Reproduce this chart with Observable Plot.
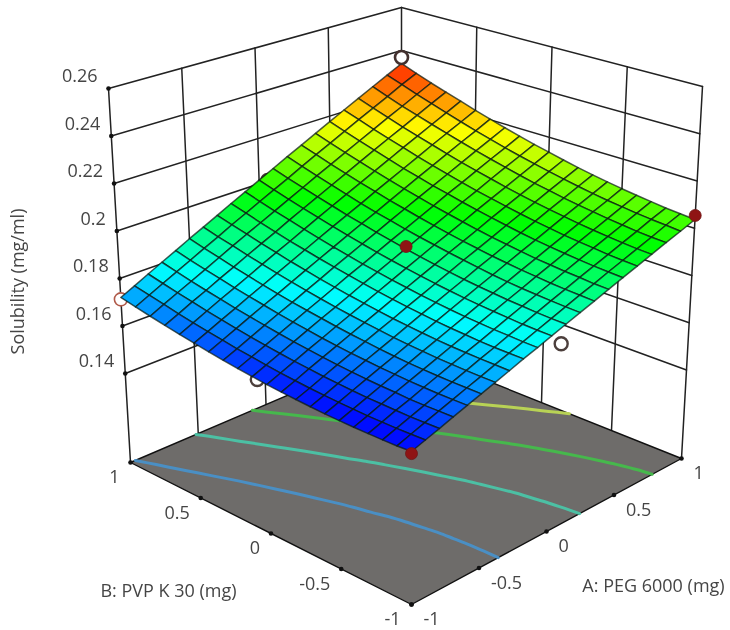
<!DOCTYPE html>
<html>
<head>
<meta charset="utf-8">
<script src="https://cdn.jsdelivr.net/npm/d3@7"></script>
<script src="https://cdn.jsdelivr.net/npm/@observablehq/plot@0.6"></script>
<style>
html,body{margin:0;padding:0;background:#fff}
svg{display:block;filter:blur(0.7px)}
</style>
</head>
<body>
<div id="chart"></div>
<script>
// ---- data ----
const zTicks = [0.14, 0.16, 0.18, 0.2, 0.22, 0.24, 0.26];
const abTicks = [-1, -0.5, 0, 0.5, 1];
const wallTicks = [-0.5, 0, 0.5];
const gridAxis = [-1,-0.9,-0.8,-0.7,-0.6,-0.5,-0.4,-0.3,-0.2,-0.1,0,0.1,0.2,0.3,0.4,0.5,0.6,0.7,0.8,0.9,1];
// Solubility surface; one row per B value (-1 .. 1), one column per A value (-1 .. 1)
const solubility = [
[.1603,.1622,.1641,.1661,.1681,.1701,.1721,.1742,.1764,.1784,.1806,.1828,.1850,.1872,.1895,.1918,.1941,.1965,.1989,.2012,.2037],
[.1600,.1620,.1640,.1660,.1680,.1701,.1721,.1743,.1764,.1785,.1807,.1829,.1852,.1875,.1897,.1921,.1944,.1968,.1992,.2018,.2042],
[.1599,.1619,.1639,.1659,.1680,.1701,.1722,.1744,.1765,.1788,.1809,.1832,.1855,.1878,.1902,.1925,.1948,.1973,.1997,.2023,.2047],
[.1599,.1619,.1640,.1659,.1681,.1702,.1724,.1746,.1767,.1790,.1813,.1836,.1859,.1882,.1906,.1930,.1955,.1979,.2004,.2029,.2055],
[.1599,.1619,.1641,.1662,.1683,.1704,.1726,.1748,.1771,.1794,.1817,.1840,.1863,.1888,.1912,.1936,.1961,.1986,.2011,.2037,.2063],
[.1600,.1621,.1642,.1664,.1686,.1707,.1730,.1752,.1775,.1798,.1822,.1846,.1869,.1894,.1918,.1943,.1968,.1994,.2020,.2045,.2072],
[.1602,.1623,.1645,.1667,.1689,.1711,.1734,.1757,.1780,.1804,.1828,.1852,.1876,.1901,.1926,.1951,.1977,.2003,.2029,.2055,.2082],
[.1605,.1626,.1649,.1671,.1694,.1716,.1739,.1763,.1787,.1811,.1835,.1859,.1885,.1909,.1935,.1960,.1986,.2013,.2039,.2066,.2093],
[.1609,.1630,.1653,.1676,.1699,.1723,.1746,.1769,.1794,.1818,.1843,.1868,.1894,.1919,.1944,.1971,.1997,.2024,.2051,.2078,.2105],
[.1613,.1635,.1659,.1682,.1705,.1729,.1753,.1777,.1802,.1827,.1852,.1877,.1904,.1929,.1955,.1983,.2009,.2036,.2063,.2091,.2119],
[.1618,.1641,.1665,.1689,.1712,.1737,.1761,.1786,.1811,.1836,.1862,.1888,.1915,.1940,.1967,.1995,.2022,.2049,.2077,.2105,.2134],
[.1625,.1648,.1672,.1696,.1721,.1746,.1770,.1795,.1822,.1847,.1873,.1899,.1926,.1953,.1980,.2008,.2035,.2064,.2092,.2120,.2149],
[.1632,.1656,.1680,.1705,.1730,.1755,.1780,.1806,.1833,.1858,.1885,.1912,.1939,.1966,.1994,.2023,.2050,.2079,.2108,.2136,.2166],
[.1640,.1664,.1689,.1715,.1740,.1765,.1791,.1817,.1845,.1871,.1898,.1925,.1953,.1981,.2009,.2037,.2066,.2095,.2125,.2154,.2184],
[.1649,.1674,.1699,.1725,.1751,.1776,.1803,.1830,.1857,.1884,.1912,.1940,.1967,.1996,.2025,.2054,.2083,.2113,.2143,.2172,.2203],
[.1659,.1684,.1710,.1736,.1763,.1789,.1816,.1843,.1871,.1899,.1927,.1955,.1983,.2013,.2042,.2071,.2101,.2132,.2162,.2192,.2223],
[.1669,.1695,.1722,.1749,.1775,.1802,.1830,.1858,.1885,.1914,.1943,.1972,.2001,.2030,.2060,.2090,.2121,.2151,.2182,.2213,.2245],
[.1681,.1707,.1735,.1761,.1789,.1816,.1845,.1873,.1901,.1931,.1960,.1989,.2019,.2049,.2079,.2110,.2141,.2171,.2203,.2235,.2267],
[.1693,.1721,.1748,.1775,.1803,.1832,.1861,.1890,.1918,.1947,.1977,.2007,.2038,.2068,.2099,.2130,.2161,.2193,.2224,.2257,.2289],
[.1706,.1734,.1762,.1790,.1818,.1848,.1876,.1907,.1936,.1966,.1996,.2026,.2058,.2089,.2120,.2152,.2184,.2216,.2248,.2282,.2314],
[.1720,.1748,.1777,.1806,.1835,.1865,.1894,.1924,.1955,.1985,.2016,.2047,.2079,.2110,.2142,.2175,.2207,.2240,.2273,.2306,.2340]
];
const contourLevels = [0.173, 0.186, 0.1985, 0.2105];
const contourColors = ["#4a8fc4", "#4cc0a4", "#46b84c", "#b8d255"];
const colorStops = [0.1599, 0.179, 0.198, 0.217, 0.234];
const colorRange = ["#0000ff", "#00ffff", "#00ff00", "#ffff00", "#ff1a00"];
// design points: A, B, solubility
const belowA = [0.06, -1, 0.07],    belowB = [1, 0.066, -1],   belowZ = [0.2002, 0.1622, 0.1757];
const aboveA = [1, 0, -1],          aboveB = [-1, 0, -1],      aboveZ = [0.2054, 0.1954, 0.1595];
const backA = [1],                  backB = [1],               backZ = [0.2368];
const cornerA = [-1],               cornerB = [1],             cornerZ = [0.1712];
const zLabel = "Solubility (mg/ml)", aLabel = "A: PEG 6000 (mg)", bLabel = "B: PVP K 30 (mg)";

// ---- view of the cube (box corners on screen: floor and ceiling) ----
const Z0 = 0.1025, Z1 = 0.26;
const floorBox = {F:[411,604], R:[681,458], B:[401,346], L:[130,462]};
const topBox   = {F:[411,187], R:[702,86],  B:[401,7],   L:[108,88]};
function project(a, b, z) {
  const s = (a + 1) / 2, t = (b + 1) / 2, c = (z - Z0) / (Z1 - Z0);
  const corner = (box, k) =>
    box.F[k]*(1-s)*(1-t) + box.R[k]*s*(1-t) + box.B[k]*s*t + box.L[k]*(1-s)*t;
  return {x: corner(floorBox,0)*(1-c) + corner(topBox,0)*c,
          y: corner(floorBox,1)*(1-c) + corner(topBox,1)*c};
}
const seg = (pts, id) => pts.map(p => ({...project(...p), id}));

// walls
const wallLines = [];
for (const z of zTicks) {
  wallLines.push(...seg([[-1,1,z],[1,1,z]], "l"+z), ...seg([[1,1,z],[1,-1,z]], "r"+z));
}
for (const v of wallTicks) {
  wallLines.push(...seg([[v,1,Z0],[v,1,Z1]], "va"+v), ...seg([[1,v,Z0],[1,v,Z1]], "vb"+v));
}
for (const [a,b] of [[-1,1],[1,1],[1,-1]]) wallLines.push(...seg([[a,b,Z0],[a,b,Z1]], "e"+a+b));

// floor
const floorPoly = seg([[-1,-1,Z0],[1,-1,Z0],[1,1,Z0],[-1,1,Z0]], "floor");

// contours
function contourLine(level) {
  const out = [];
  solubility.forEach((row, j) => {
    for (let i = 0; i < row.length - 1; i++) {
      if ((row[i]-level)*(row[i+1]-level) <= 0) {
        const f = (level-row[i])/(row[i+1]-row[i]);
        out.push(project(gridAxis[i]+f*(gridAxis[i+1]-gridAxis[i]), gridAxis[j], Z0));
        break;
      }
    }
  });
  return out;
}

// surface cells, back to front
const cells = [];
for (let j = gridAxis.length-2; j >= 0; j--) {
  for (let i = gridAxis.length-2; i >= 0; i--) {
    const v = (solubility[j][i]+solubility[j][i+1]+solubility[j+1][i]+solubility[j+1][i+1])/4;
    const id = j*100+i;
    [[i,j],[i+1,j],[i+1,j+1],[i,j+1]].forEach(([p,q]) =>
      cells.push({...project(gridAxis[p], gridAxis[q], solubility[q][p]), id, v}));
  }
}

const pointSet = (A,B,Z) => A.map((a,i) => project(a, B[i], Z[i]));

const textFont = {fontFamily:"'Open Sans'", fontSize:18, fill:"#454545"};
const zTickDots = zTicks.map(z => ({...project(-1,1,z), z}));
const aTickPts = abTicks.map(v => ({...project(v,-1,Z0), v}));
const bTickPts = abTicks.map(v => ({...project(-1,v,Z0), v}));

const plot = Plot.plot({
  width:730, height:630, margin:0,
  x:{domain:[0,730], range:[0,730], axis:null},
  y:{domain:[0,630], range:[0,630], axis:null},
  color:{type:"linear", domain:colorStops, range:colorRange},
  style:{background:"white"},
  marks:[
    Plot.line(wallLines,{x:"x",y:"y",z:"id",stroke:"#222",strokeWidth:1.5}),
    Plot.line(floorPoly,{x:"x",y:"y",z:"id",fill:"#6e6c6a",stroke:"#111",strokeWidth:1.4,curve:"linear-closed"}),
    ...contourLevels.map((l,i)=>Plot.line(contourLine(l),{x:"x",y:"y",stroke:contourColors[i],strokeWidth:3,curve:"catmull-rom"})),
    Plot.dot(zTickDots,{x:"x",y:"y",r:2.3,fill:"#111",stroke:"none"}),
    Plot.dot(aTickPts,{x:"x",y:"y",r:2.3,fill:"#111",stroke:"none"}),
    Plot.dot(bTickPts,{x:"x",y:"y",r:2.3,fill:"#111",stroke:"none"}),
    Plot.dot(pointSet(belowA,belowB,belowZ),{x:"x",y:"y",r:6.5,fill:"white",stroke:"#4c3f3c",strokeWidth:2.4}),
    Plot.dot(pointSet(cornerA,cornerB,cornerZ),{x:"x",y:"y",r:6.5,fill:"white",stroke:"#b05a4a",strokeWidth:1.6}),
    Plot.line(cells,{x:"x",y:"y",z:"id",fill:"v",stroke:"#0a1a14",strokeOpacity:0.72,strokeWidth:1.5,curve:"linear-closed"}),
    Plot.dot(pointSet(backA,backB,backZ),{x:"x",y:"y",r:6.5,fill:"white",stroke:"#43302e",strokeWidth:2.6}),
    Plot.dot(pointSet(aboveA,aboveB,aboveZ),{x:"x",y:"y",r:6,fill:"#8f1414",stroke:"#6e1515",strokeWidth:0.8}),
    Plot.text(zTickDots,{x:"x",y:"y",text:d=>String(d.z),dx:-11,dy:-12,textAnchor:"end",...textFont}),
    Plot.text(aTickPts,{x:"x",y:"y",text:d=>String(d.v),dx:12,dy:15,textAnchor:"start",...textFont}),
    Plot.text(bTickPts,{x:"x",y:"y",text:d=>String(d.v),dx:-11,dy:15,textAnchor:"end",...textFont}),
    Plot.text([zLabel],{x:18,y:281,text:d=>d,rotate:-90,...textFont}),
    Plot.text([bLabel],{x:168,y:591,text:d=>d,...textFont}),
    Plot.text([aLabel],{x:653,y:586,text:d=>d,...textFont})
  ]
});
document.getElementById("chart").appendChild(plot);
</script>
</body>
</html>
